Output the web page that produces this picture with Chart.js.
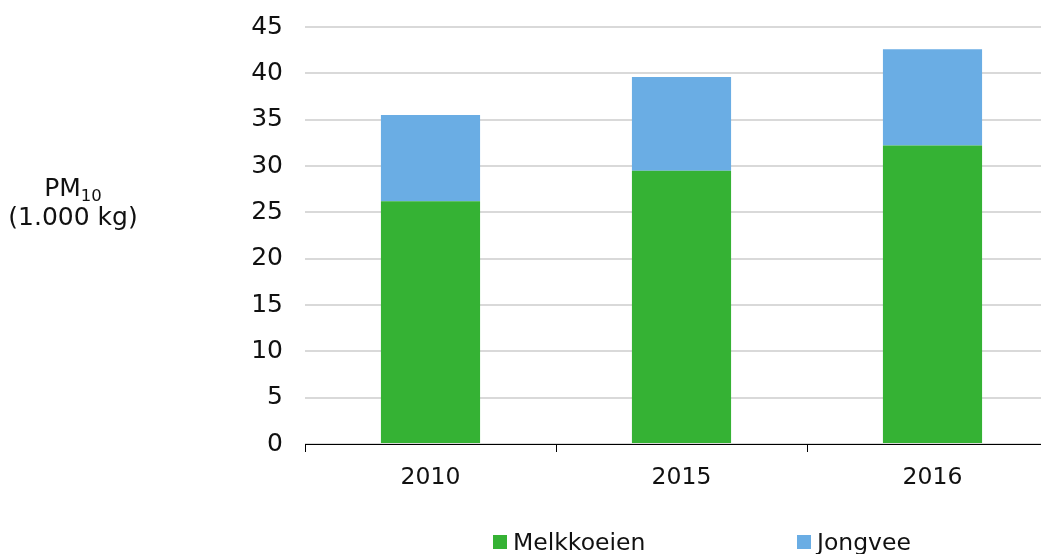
<!DOCTYPE html>
<html>
<head>
<meta charset="utf-8">
<script src="https://cdn.jsdelivr.net/npm/chart.js@4.4.1/dist/chart.umd.min.js"></script>
<style>
  html, body { margin: 0; padding: 0; background: #fff; }
  #wrap { width: 1041px; height: 554px; position: relative; overflow: hidden; }
</style>
</head>
<body>
<div id="wrap"><canvas id="chart" width="1058" height="554"></canvas></div>
<script>
const years = ['2010', '2015', '2016'];
const melkkoeien = [26.2, 29.5, 32.2];
const jongvee = [9.3, 10.1, 10.4];
const yTicks = [0, 5, 10, 15, 20, 25, 30, 35, 40, 45];

const FONT = '"DejaVu Sans", Verdana, sans-serif';
const FS = 23.5;
const GREEN = '#35b234';
const BLUE = '#6aade4';

// y title with subscript + custom legend
const extras = {
    id: 'extras',
    afterDraw(chart) {
        const ctx = chart.ctx;
        ctx.save();
        ctx.fillStyle = '#111';
        ctx.textBaseline = 'alphabetic';
        // y axis title
        const tf = 25;
        ctx.font = tf + 'px ' + FONT;
        const pmW = ctx.measureText('PM').width;
        ctx.font = '16.5px ' + FONT;
        const subW = ctx.measureText('10').width;
        const cx = 73;
        const x0 = cx - (pmW + subW) / 2;
        ctx.textAlign = 'left';
        ctx.font = tf + 'px ' + FONT;
        ctx.fillText('PM', x0, 196);
        ctx.font = '16.5px ' + FONT;
        ctx.fillText('10', x0 + pmW, 201);
        ctx.font = tf + 'px ' + FONT;
        ctx.textAlign = 'center';
        ctx.fillText('(1.000 kg)', cx, 225);

        // legend
        const items = [
            { label: chart.data.datasets[0].label, color: GREEN, x: 493 },
            { label: chart.data.datasets[1].label, color: BLUE, x: 797 }
        ];
        ctx.textAlign = 'left';
        ctx.font = FS + 'px ' + FONT;
        items.forEach(it => {
            ctx.fillStyle = it.color;
            ctx.fillRect(it.x, 535, 14, 14);
            ctx.fillStyle = '#111';
            ctx.fillText(it.label, it.x + 20, 550);
        });
        ctx.restore();
    }
};

new Chart(document.getElementById('chart'), {
    type: 'bar',
    data: {
        labels: years,
        datasets: [
            { label: 'Melkkoeien', data: melkkoeien, backgroundColor: GREEN, borderWidth: 0 },
            { label: 'Jongvee', data: jongvee, backgroundColor: BLUE, borderWidth: 0 }
        ]
    },
    options: {
        responsive: false,
        animation: false,
        layout: { padding: { top: 27, right: 0, left: 0, bottom: 0 } },
        datasets: { bar: { barPercentage: 0.395, categoryPercentage: 1 } },
        scales: {
            x: {
                stacked: true,
                afterFit: s => { s.height = 110; s.paddingLeft = 0; s.paddingRight = 0; },
                grid: { offset: true, drawOnChartArea: false, drawTicks: true, tickLength: 8, color: '#000' },
                border: { color: '#000', width: 1 },
                ticks: { color: '#111', padding: 12, font: { family: FONT, size: FS } }
            },
            y: {
                stacked: true,
                min: 0, max: 45,
                afterFit: s => { s.width = 305; s.paddingTop = 0; s.paddingBottom = 0; },
                afterBuildTicks: s => { s.ticks = yTicks.map(v => ({ value: v })); },
                grid: { color: '#d9d9d9', lineWidth: 2, drawTicks: false },
                border: { display: false },
                ticks: { color: '#111', padding: 22, font: { family: FONT, size: 25 } }
            }
        },
        plugins: { legend: { display: false }, tooltip: { enabled: false } }
    },
    plugins: [extras]
});
</script>
</body>
</html>
